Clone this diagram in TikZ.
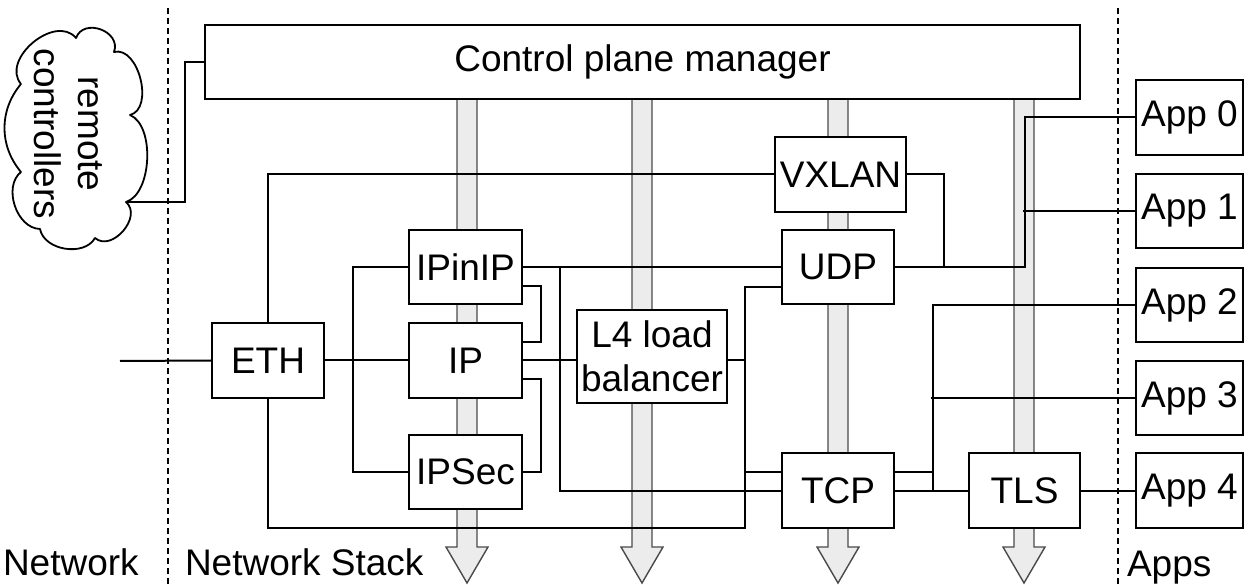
\documentclass[tikz,border=0pt]{standalone}
\usepackage{fontspec}
\setmainfont{Liberation Sans}
\definecolor{barfill}{HTML}{ECECEC}
\definecolor{baredge}{HTML}{4A4A4A}
\begin{document}
\begin{tikzpicture}[x=1pt,y=-1pt,
  font=\fontsize{37}{44}\selectfont,
  line width=2pt,
  bx/.style 2 args={draw, fill=white, line width=2pt, inner sep=0pt,
     minimum width=#1pt, minimum height=#2pt, align=center},
  bar/.style={draw=baredge, fill=barfill, line width=1.4pt, line join=miter},
  conn/.style={draw, line width=2pt},
  cloudline/.style={draw, fill=white, line width=1.8pt, line join=round},
  sep/.style={draw, line width=1.8pt, dash pattern=on 6pt off 4pt},
  lbl/.style={anchor=base west, inner sep=0pt}]
\useasboundingbox (0,0) rectangle (1248,585);

% gray down arrows (behind everything)
\foreach \cx in {467,642,838,1024}
  \draw[bar] (\cx-10,99) -- (\cx-10,547) -- (\cx-21,547) -- (\cx,583)
     -- (\cx+21,547) -- (\cx+10,547) -- (\cx+10,99) -- cycle;

% separators
\coordinate (s1t) at (168,8);  \coordinate (s1b) at (168,585);
\coordinate (s2t) at (1118,8); \coordinate (s2b) at (1118,585);
\draw[sep] (s1t) -- (s1b);
\draw[sep] (s2t) -- (s2b);

% cloud (remote controllers)
\path[cloudline] (76,38)
   to[bend left=90, looseness=1.4] (114,52)
   to[bend left=90, looseness=1.0] (130,115)
   to[bend left=70, looseness=0.8] (126,202)
   to[bend left=90, looseness=1.2] (95,238)
   to[bend left=70, looseness=1.0] (40,229)
   to[bend left=70, looseness=1.0] (21,172)
   to[bend left=40, looseness=1.0] (21,84)
   to[bend left=90, looseness=1.15] (76,38) -- cycle;
\node[rotate=-90, align=center, inner sep=0pt] (cloudtxt) at (68,134) {remote\\controllers};
\coordinate (cloudport) at (126,202);

% boxes
\node[bx={875}{74}] (CP) at (642.5,62) {Control plane manager};
\node[bx={112}{75}] (ETH) at (268,360.5) {ETH};
\node[bx={113}{74}] (IPinIP) at (465.5,267) {IPinIP};
\node[bx={113}{75}] (IP) at (465.5,360.5) {IP};
\node[bx={113}{74}] (IPSec) at (465.5,472) {IPSec};
\node[bx={150}{93}] (L4) at (652,356.5) {L4 load\\balancer};
\node[bx={131}{75}] (VXLAN) at (840.5,174.5) {VXLAN};
\node[bx={112}{74}] (UDP) at (838,267) {UDP};
\node[bx={112}{75}] (TCP) at (838,490.5) {TCP};
\node[bx={111}{75}] (TLS) at (1024.5,490.5) {TLS};
\node[bx={107}{75}] (App0) at (1189.5,117.5) {App 0};
\node[bx={107}{74}] (App1) at (1189.5,211) {App 1};
\node[bx={107}{74}] (App2) at (1189.5,305) {App 2};
\node[bx={107}{74}] (App3) at (1189.5,398) {App 3};
\node[bx={107}{75}] (App4) at (1189.5,490.5) {App 4};

% labels
\node[lbl] (lnet) at (2,575) {Network};
\node[lbl] (lstack) at (184,575) {Network Stack};
\node[lbl] (lapps) at (1126,576) {Apps};

% connectors
\draw[conn] (CP.west) -- ++(-19,0) |- (cloudport);
\coordinate (netin) at (120,361);
\draw[conn] (netin) -- (ETH.west);
\draw[conn] (ETH.east) -- (IP.west);
\draw[conn] (IPinIP.west) -- ++(-55,0) |- (IPSec.west);
\draw[conn] (ETH.north) |- (VXLAN.west);
\draw[conn] (ETH.south) |- (745,528) |- ([yshift=-20pt]UDP.west);
\draw[conn] (L4.east |- IP.east) -- (745,360.5);
\draw[conn] ([yshift=18.5pt]TCP.west) -- ++(-37,0);
\draw[conn] ([yshift=-19pt]IPinIP.east) -- ++(18,0) |- ([yshift=18.5pt]IP.east);
\draw[conn] ([yshift=-18.5pt]IP.east) -- ++(18,0) |- (IPSec.east);
\draw[conn] (IPinIP.east) -- (UDP.west);
\draw[conn] (IPinIP.east) ++(37,0) |- (TCP.west);
\draw[conn] (IP.east) -- (IP.east -| L4.west);
\draw[conn] (VXLAN.east) -- ++(37,0) |- (UDP.east);
\draw[conn] (UDP.east) -- ++(130,0) |- (App0.west);
\draw[conn] (App1.west) -- ++(-112,0);
\draw[conn] (TCP.east) ++(38,0) |- (App2.west);
\draw[conn] ([yshift=18.5pt]TCP.east) -- ++(38,0);
\draw[conn] (App3.west) -- ++(-204,0);
\draw[conn] (TCP.east) -- (TLS.west);
\draw[conn] (TLS.east) -- (App4.west);
\end{tikzpicture}
\end{document}
